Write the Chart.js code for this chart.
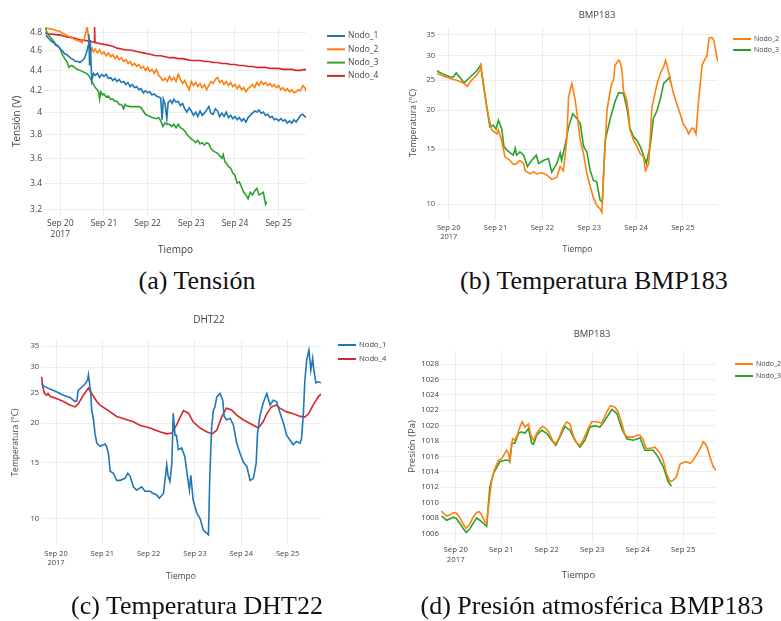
<!DOCTYPE html>
<html>
<head>
<meta charset="utf-8">
<script src="https://cdn.jsdelivr.net/npm/chart.js@4.4.1/dist/chart.umd.min.js"></script>
<style>
  body { margin: 0; background: #fff; width: 781px; height: 621px; position: relative; overflow: hidden; }
  canvas { position: absolute; }
  .cap { position: absolute; width: 400px; text-align: center; font-family: "Liberation Serif", serif; font-size: 26px; line-height: 30px; color: #111; }
</style>
</head>
<body>
<canvas id="chartA" style="left:0;top:0"></canvas>
<canvas id="chartB" style="left:390px;top:0"></canvas>
<canvas id="chartC" style="left:0;top:310px"></canvas>
<canvas id="chartD" style="left:390px;top:310px"></canvas>
<div class="cap" style="left:-3px;top:266px">(a) Tensión</div>
<div class="cap" style="left:394px;top:266px">(b) Temperatura BMP183</div>
<div class="cap" style="left:-3px;top:591px">(c) Temperatura DHT22</div>
<div class="cap" style="left:392px;top:591px">(d) Presión atmosférica BMP183</div>
<script>
"use strict";

// x values are days since Sep 20 2017 00:00
const dayLabels = ['Sep 20', 'Sep 21', 'Sep 22', 'Sep 23', 'Sep 24', 'Sep 25'];
const yearLabel = '2017';

const tensionTicks = [3.2, 3.4, 3.6, 3.8, 4, 4.2, 4.4, 4.6, 4.8];
const tempTicks = [10, 15, 20, 25, 30, 35];
const pressureTicks = [1006, 1008, 1010, 1012, 1014, 1016, 1018, 1020, 1022, 1024, 1026, 1028];

// (a) Tensión (V)
const tensionNodo1 = [[-0.33,4.77],[-0.28,4.74],[-0.2,4.70],[-0.15,4.69],[-0.1,4.66],[-0.05,4.65],[0,4.62],[0.05,4.60],[0.1,4.57],[0.15,4.56],[0.2,4.54],[0.25,4.52],[0.3,4.51],[0.35,4.49],[0.4,4.49],[0.45,4.48],[0.5,4.50],[0.55,4.52],[0.6,4.58],[0.64,4.66],[0.655,4.78],[0.67,4.45],[0.685,4.72],[0.72,4.30],[0.76,4.37],[0.8,4.35],[0.85,4.37],[0.9,4.33],[0.95,4.36],[1.0,4.34],[1.05,4.36],[1.1,4.32],[1.15,4.33],[1.2,4.30],[1.25,4.32],[1.3,4.29],[1.35,4.31],[1.4,4.28],[1.45,4.29],[1.5,4.26],[1.55,4.28],[1.6,4.24],[1.65,4.26],[1.7,4.23],[1.75,4.24],[1.8,4.21],[1.85,4.22],[1.9,4.18],[1.95,4.20],[2.0,4.18],[2.05,4.19],[2.1,4.16],[2.15,4.17],[2.2,4.15],[2.25,4.14],[2.3,4.13],[2.33,3.93],[2.36,4.12],[2.4,4.07],[2.44,3.94],[2.47,4.09],[2.52,4.11],[2.56,4.08],[2.6,4.12],[2.65,4.09],[2.7,4.10],[2.75,4.06],[2.8,4.08],[2.85,4.03],[2.9,4.00],[2.95,4.04],[3.0,4.01],[3.05,3.97],[3.1,4.00],[3.15,3.96],[3.2,4.01],[3.25,3.97],[3.3,3.99],[3.35,4.02],[3.4,4.05],[3.45,3.99],[3.5,3.98],[3.55,4.03],[3.6,4.01],[3.65,3.96],[3.7,3.99],[3.75,3.96],[3.8,4.00],[3.85,3.95],[3.9,3.97],[3.95,3.94],[4.0,3.96],[4.05,3.93],[4.1,3.95],[4.15,3.92],[4.2,3.94],[4.25,3.91],[4.3,3.95],[4.35,3.97],[4.4,3.99],[4.45,4.01],[4.5,4.00],[4.55,4.02],[4.6,3.99],[4.65,4.00],[4.7,3.97],[4.75,3.98],[4.8,3.95],[4.85,3.96],[4.9,3.93],[4.95,3.94],[5.0,3.92],[5.05,3.94],[5.1,3.92],[5.15,3.93],[5.2,3.90],[5.25,3.92],[5.3,3.90],[5.35,3.93],[5.4,3.91],[5.45,3.94],[5.5,3.97],[5.55,3.98],[5.6,3.96],[5.63,3.95]];
const tensionNodo2 = [[-0.34,4.85],[-0.25,4.84],[-0.15,4.83],[-0.1,4.82],[0,4.81],[0.05,4.79],[0.1,4.78],[0.15,4.77],[0.2,4.75],[0.25,4.75],[0.3,4.73],[0.35,4.72],[0.4,4.71],[0.45,4.70],[0.5,4.69],[0.55,4.73],[0.62,4.86],[0.66,4.68],[0.68,4.66],[0.7,4.59],[0.73,4.63],[0.76,4.59],[0.8,4.62],[0.85,4.58],[0.9,4.61],[0.95,4.57],[1.0,4.59],[1.05,4.55],[1.1,4.58],[1.15,4.54],[1.2,4.56],[1.25,4.52],[1.3,4.55],[1.35,4.51],[1.4,4.53],[1.45,4.49],[1.5,4.51],[1.55,4.47],[1.6,4.49],[1.65,4.45],[1.7,4.47],[1.75,4.44],[1.8,4.46],[1.85,4.42],[1.9,4.44],[1.95,4.40],[2.0,4.43],[2.05,4.39],[2.1,4.41],[2.15,4.37],[2.2,4.41],[2.25,4.35],[2.3,4.33],[2.35,4.30],[2.4,4.32],[2.45,4.29],[2.5,4.34],[2.55,4.30],[2.6,4.33],[2.65,4.29],[2.7,4.36],[2.75,4.31],[2.8,4.27],[2.85,4.30],[2.9,4.25],[2.95,4.21],[3.0,4.29],[3.05,4.25],[3.1,4.28],[3.15,4.24],[3.2,4.27],[3.25,4.23],[3.3,4.26],[3.35,4.21],[3.4,4.25],[3.45,4.29],[3.5,4.27],[3.55,4.31],[3.6,4.33],[3.65,4.28],[3.7,4.30],[3.75,4.26],[3.8,4.29],[3.85,4.25],[3.9,4.28],[3.95,4.24],[4.0,4.26],[4.05,4.22],[4.1,4.25],[4.15,4.21],[4.2,4.23],[4.25,4.19],[4.3,4.22],[4.35,4.24],[4.4,4.26],[4.45,4.23],[4.5,4.28],[4.55,4.25],[4.6,4.29],[4.65,4.26],[4.7,4.28],[4.75,4.25],[4.8,4.27],[4.85,4.24],[4.9,4.26],[4.95,4.23],[5.0,4.25],[5.05,4.21],[5.1,4.23],[5.15,4.20],[5.2,4.22],[5.25,4.19],[5.3,4.21],[5.35,4.18],[5.4,4.19],[5.45,4.21],[5.5,4.20],[5.55,4.25],[5.6,4.23],[5.63,4.19]];
const tensionNodo3 = [[-0.34,4.85],[-0.3,4.79],[-0.25,4.76],[-0.2,4.73],[-0.15,4.70],[-0.1,4.67],[-0.05,4.65],[0,4.62],[0.05,4.56],[0.1,4.52],[0.15,4.49],[0.2,4.43],[0.25,4.45],[0.3,4.44],[0.35,4.42],[0.4,4.41],[0.45,4.40],[0.5,4.39],[0.55,4.38],[0.6,4.37],[0.65,4.35],[0.7,4.31],[0.75,4.27],[0.8,4.23],[0.85,4.21],[0.88,4.19],[0.9,4.12],[0.93,4.19],[0.97,4.16],[1.0,4.17],[1.05,4.14],[1.1,4.15],[1.15,4.12],[1.2,4.12],[1.25,4.10],[1.3,4.10],[1.35,4.07],[1.4,4.07],[1.45,4.03],[1.48,4.07],[1.5,4.06],[1.6,4.05],[1.7,4.05],[1.8,4.05],[1.85,4.04],[1.9,4.01],[1.95,3.98],[2.0,3.97],[2.1,3.95],[2.2,3.94],[2.25,3.95],[2.3,3.92],[2.35,3.87],[2.4,3.90],[2.45,3.89],[2.5,3.89],[2.55,3.87],[2.6,3.89],[2.65,3.86],[2.7,3.89],[2.75,3.86],[2.8,3.85],[2.85,3.83],[2.9,3.80],[2.95,3.78],[3.0,3.76],[3.05,3.75],[3.1,3.73],[3.15,3.75],[3.2,3.72],[3.25,3.73],[3.3,3.71],[3.35,3.73],[3.4,3.72],[3.45,3.68],[3.5,3.66],[3.55,3.65],[3.6,3.64],[3.65,3.62],[3.7,3.60],[3.73,3.63],[3.77,3.57],[3.8,3.56],[3.85,3.53],[3.9,3.52],[3.95,3.48],[4.0,3.46],[4.05,3.40],[4.1,3.41],[4.15,3.37],[4.2,3.33],[4.25,3.31],[4.3,3.28],[4.35,3.33],[4.4,3.31],[4.45,3.34],[4.5,3.36],[4.55,3.31],[4.6,3.32],[4.65,3.33],[4.7,3.24],[4.73,3.26]];
const tensionNodo4 = [[-0.35,4.79],[-0.2,4.78],[0,4.77],[0.15,4.75],[0.3,4.74],[0.45,4.72],[0.6,4.71],[0.7,4.70],[0.78,4.69],[0.785,4.86],[0.795,4.69],[0.9,4.68],[1.0,4.67],[1.1,4.66],[1.2,4.65],[1.3,4.63],[1.4,4.62],[1.5,4.61],[1.6,4.61],[1.7,4.60],[1.8,4.59],[1.9,4.58],[2.0,4.57],[2.1,4.56],[2.2,4.55],[2.3,4.55],[2.4,4.54],[2.5,4.53],[2.6,4.53],[2.7,4.52],[2.8,4.52],[2.9,4.51],[3.0,4.50],[3.1,4.50],[3.2,4.50],[3.3,4.49],[3.4,4.49],[3.5,4.48],[3.6,4.48],[3.7,4.47],[3.8,4.47],[3.9,4.46],[4.0,4.46],[4.1,4.45],[4.2,4.45],[4.3,4.44],[4.4,4.44],[4.5,4.43],[4.6,4.43],[4.7,4.43],[4.8,4.42],[4.9,4.42],[5.0,4.42],[5.1,4.41],[5.2,4.41],[5.3,4.41],[5.4,4.40],[5.5,4.40],[5.6,4.41],[5.63,4.40]];

// (b) Temperatura BMP183 (°C)
const bmpTempNodo2 = [[-0.26,26.3],[-0.11,25.8],[0.03,25.3],[0.17,25.0],[0.31,24.5],[0.40,23.9],[0.46,24.7],[0.60,26.0],[0.67,27.0],[0.68,28.4],[0.74,24.0],[0.78,22.1],[0.85,19.1],[0.92,17.3],[1.03,16.8],[1.06,17.3],[1.13,16.0],[1.20,14.2],[1.31,13.8],[1.38,13.4],[1.45,13.5],[1.52,13.8],[1.60,13.5],[1.63,12.8],[1.74,12.5],[1.81,12.7],[1.88,12.5],[1.99,12.6],[2.09,12.4],[2.20,12.0],[2.31,12.2],[2.38,13.2],[2.45,12.8],[2.52,16.0],[2.56,22.1],[2.63,24.4],[2.70,21.6],[2.74,19.5],[2.81,16.0],[2.88,14.5],[2.95,12.5],[3.02,11.4],[3.09,10.5],[3.16,9.9],[3.23,9.66],[3.27,9.4],[3.30,11.9],[3.38,20.0],[3.45,23.2],[3.48,24.4],[3.52,25.0],[3.55,27.9],[3.63,29.0],[3.66,28.6],[3.70,26.9],[3.73,23.2],[3.80,21.6],[3.84,19.5],[3.87,17.3],[3.95,16.0],[4.02,15.3],[4.09,14.5],[4.16,14.2],[4.20,12.8],[4.27,13.5],[4.34,20.5],[4.45,24.4],[4.52,26.3],[4.59,27.6],[4.63,29.0],[4.67,27.6],[4.73,25.0],[4.80,22.7],[4.87,21.0],[4.94,19.5],[5.01,18.1],[5.09,17.3],[5.12,16.8],[5.19,17.5],[5.23,17.5],[5.28,16.8],[5.33,21.0],[5.41,27.9],[5.48,29.4],[5.51,29.7],[5.56,34.1],[5.62,34.3],[5.66,33.6],[5.71,30.5],[5.75,28.6]];
const bmpTempNodo3 = [[-0.26,26.8],[-0.11,26.1],[0.03,25.6],[0.10,25.6],[0.16,26.4],[0.24,25.5],[0.33,24.5],[0.46,25.6],[0.60,26.8],[0.68,27.9],[0.74,24.4],[0.81,20.5],[0.88,17.7],[0.95,17.9],[1.01,17.4],[1.06,18.6],[1.13,17.5],[1.18,15.3],[1.24,14.9],[1.38,14.35],[1.42,15.1],[1.45,14.35],[1.52,14.7],[1.60,14.35],[1.68,13.2],[1.77,13.8],[1.87,14.35],[1.92,13.5],[2.02,13.8],[2.13,14.0],[2.20,12.65],[2.31,13.5],[2.38,14.6],[2.41,13.8],[2.49,15.6],[2.56,17.7],[2.65,19.5],[2.74,18.8],[2.81,18.1],[2.88,15.3],[2.95,14.7],[3.02,12.85],[3.09,11.9],[3.16,11.8],[3.23,10.3],[3.28,10.1],[3.34,16.0],[3.45,18.8],[3.55,21.3],[3.63,22.8],[3.73,22.7],[3.80,20.5],[3.87,17.5],[3.95,16.4],[4.02,16.0],[4.09,15.3],[4.16,14.35],[4.22,13.5],[4.30,15.3],[4.37,18.8],[4.45,20.0],[4.52,21.8],[4.59,24.4],[4.66,25.0],[4.72,25.6],[4.74,24.4]];

// (c) Temperatura DHT22 (°C)
const dhtTempNodo1 = [[-0.31,26.7],[-0.27,26.2],[-0.13,25.6],[0.01,25.1],[0.16,24.5],[0.30,24.1],[0.41,23.4],[0.45,23.5],[0.48,25.4],[0.55,25.9],[0.63,26.6],[0.68,27.3],[0.70,28.4],[0.72,27.0],[0.75,24.8],[0.77,22.0],[0.81,20.5],[0.84,18.6],[0.88,17.3],[0.95,16.9],[1.06,17.2],[1.09,16.9],[1.13,16.1],[1.17,14.1],[1.24,13.9],[1.31,13.2],[1.38,13.2],[1.49,13.4],[1.55,13.9],[1.60,13.6],[1.67,12.6],[1.74,12.3],[1.85,12.6],[1.92,12.2],[2.03,12.2],[2.10,12.0],[2.17,11.9],[2.23,11.6],[2.32,12.0],[2.39,14.8],[2.42,13.6],[2.46,13.1],[2.50,14.9],[2.53,21.5],[2.57,18.3],[2.60,18.3],[2.64,16.5],[2.71,16.7],[2.78,15.7],[2.82,14.2],[2.88,12.3],[2.91,13.7],[2.96,11.45],[3.04,10.4],[3.11,10.0],[3.18,9.2],[3.25,9.0],[3.29,8.9],[3.32,13.6],[3.36,19.5],[3.40,22.0],[3.43,22.5],[3.47,24.2],[3.54,24.8],[3.60,23.6],[3.63,21.0],[3.68,20.5],[3.76,20.7],[3.83,19.7],[3.90,17.3],[3.97,16.1],[4.04,15.1],[4.12,14.6],[4.19,13.2],[4.26,13.4],[4.32,14.9],[4.35,18.6],[4.40,21.0],[4.47,23.1],[4.55,24.8],[4.62,22.8],[4.69,23.6],[4.76,23.4],[4.83,21.7],[4.91,20.0],[4.98,18.3],[5.05,17.7],[5.12,17.1],[5.19,17.5],[5.27,17.3],[5.30,17.9],[5.34,21.5],[5.37,27.0],[5.41,31.6],[5.46,34.0],[5.50,29.4],[5.54,32.0],[5.56,29.8],[5.61,26.8],[5.66,27.0],[5.72,26.8]];
const dhtTempNodo4 = [[-0.31,28.0],[-0.29,26.2],[-0.25,24.8],[-0.20,24.5],[-0.17,24.8],[-0.13,24.3],[0.01,23.9],[0.16,23.4],[0.30,22.8],[0.41,22.5],[0.48,23.0],[0.59,24.5],[0.70,25.8],[0.77,24.8],[0.88,23.4],[0.95,22.8],[1.17,21.7],[1.31,21.0],[1.53,20.5],[1.67,20.2],[1.81,19.7],[2.03,19.3],[2.24,18.8],[2.39,18.5],[2.50,18.6],[2.60,19.7],[2.75,21.9],[2.86,21.5],[2.96,20.2],[3.11,19.3],[3.25,18.8],[3.37,18.5],[3.47,19.0],[3.58,21.0],[3.68,22.3],[3.79,22.0],[3.90,21.2],[4.04,20.5],[4.26,19.7],[4.37,19.3],[4.47,20.2],[4.55,21.4],[4.65,22.5],[4.76,22.8],[4.83,22.3],[4.98,21.7],[5.12,21.4],[5.27,21.0],[5.37,20.9],[5.45,21.4],[5.55,22.8],[5.66,24.2],[5.72,24.7]];

// (d) Presión BMP183 (Pa)
const pressureNodo2 = [[-0.31,1008.9],[-0.27,1008.6],[-0.20,1008.25],[-0.12,1008.4],[-0.05,1008.7],[0.02,1008.6],[0.10,1007.95],[0.17,1007.1],[0.23,1006.65],[0.31,1007.2],[0.39,1008.16],[0.46,1008.7],[0.52,1008.8],[0.57,1008.4],[0.64,1007.5],[0.68,1007.3],[0.72,1009.46],[0.79,1012.9],[0.86,1014.4],[0.94,1015.5],[1.01,1015.7],[1.06,1016.2],[1.12,1016.8],[1.16,1016.4],[1.19,1015.5],[1.25,1018.3],[1.30,1018.1],[1.35,1018.75],[1.41,1019.8],[1.46,1020.5],[1.52,1019.8],[1.60,1020.2],[1.65,1018.75],[1.71,1018.1],[1.78,1019.0],[1.85,1019.6],[1.91,1019.9],[1.96,1019.75],[2.04,1019.2],[2.11,1018.3],[2.18,1017.6],[2.25,1018.1],[2.36,1019.8],[2.44,1020.5],[2.51,1020.2],[2.58,1018.75],[2.66,1017.7],[2.73,1017.45],[2.80,1018.1],[2.91,1019.6],[2.99,1020.5],[3.10,1020.5],[3.21,1020.3],[3.32,1021.8],[3.40,1022.6],[3.50,1022.4],[3.57,1021.8],[3.65,1020.3],[3.72,1018.75],[3.79,1018.5],[3.90,1018.5],[3.98,1018.75],[4.05,1018.75],[4.11,1018.3],[4.19,1017.0],[4.30,1017.1],[4.38,1017.2],[4.41,1017.0],[4.49,1016.4],[4.56,1015.5],[4.63,1013.8],[4.71,1012.7],[4.78,1012.9],[4.85,1013.35],[4.93,1015.0],[5.00,1015.2],[5.07,1015.3],[5.15,1015.1],[5.22,1015.5],[5.29,1016.2],[5.37,1017.0],[5.44,1017.9],[5.51,1017.45],[5.59,1015.9],[5.66,1014.65],[5.72,1014.2]];
const pressureNodo3 = [[-0.31,1008.25],[-0.20,1007.7],[-0.05,1008.1],[0.02,1007.9],[0.17,1006.6],[0.23,1006.1],[0.31,1006.6],[0.46,1008.0],[0.53,1007.7],[0.68,1006.9],[0.75,1012.05],[0.83,1013.8],[0.97,1015.3],[1.08,1015.5],[1.16,1015.5],[1.19,1015.3],[1.23,1017.7],[1.30,1017.7],[1.38,1019.0],[1.45,1019.2],[1.52,1019.0],[1.60,1019.6],[1.67,1017.7],[1.71,1017.6],[1.78,1018.75],[1.89,1019.4],[2.00,1019.0],[2.11,1018.1],[2.20,1017.45],[2.29,1018.5],[2.40,1019.9],[2.51,1019.4],[2.62,1018.1],[2.73,1017.2],[2.84,1018.1],[2.95,1019.8],[3.06,1020.0],[3.17,1019.8],[3.28,1020.7],[3.43,1022.1],[3.54,1021.6],[3.65,1019.6],[3.76,1018.3],[3.90,1018.1],[4.05,1018.4],[4.16,1016.8],[4.34,1016.8],[4.45,1015.9],[4.56,1014.65],[4.67,1012.7],[4.74,1012.1]];

const BLUE = '#1f77b4', ORANGE = '#ff7f0e', GREEN = '#2ca02c', RED = '#d62728';
const TEXT = '#444';
const FONT = '"Open Sans", "Liberation Sans", sans-serif';

// title + legend drawn at fixed spots, like the plotly layout
const panelText = {
  id: 'panelText',
  afterDraw(chart, args, opts) {
    const ctx = chart.ctx;
    ctx.save();
    ctx.textBaseline = 'middle';
    if (opts.title) {
      ctx.font = `${opts.titleSize}px ${FONT}`;
      ctx.fillStyle = TEXT;
      ctx.textAlign = 'center';
      ctx.fillText(opts.title, opts.titleX, opts.titleY);
    }
    ctx.font = `${opts.legendSize}px ${FONT}`;
    ctx.textAlign = 'left';
    chart.data.datasets.forEach((ds, i) => {
      const y = opts.legendY + i * opts.legendDy;
      ctx.strokeStyle = ds.borderColor;
      ctx.lineWidth = 2;
      ctx.beginPath();
      ctx.moveTo(opts.legendX, y);
      ctx.lineTo(opts.legendX + 18, y);
      ctx.stroke();
      ctx.fillStyle = TEXT;
      ctx.fillText(ds.label, opts.legendX + 21, y);
    });
    ctx.restore();
  }
};

function toPoints(pairs) {
  return pairs.map(p => ({x: p[0], y: p[1]}));
}

function line(label, pairs, color) {
  return {
    label: label,
    data: toPoints(pairs),
    borderColor: color,
    backgroundColor: color,
    borderWidth: 1.6,
    pointRadius: 0,
    tension: 0
  };
}

function makeChart(id, p) {
  const canvas = document.getElementById(id);
  canvas.width = p.w;
  canvas.height = p.h;
  canvas.style.width = p.w + 'px';
  canvas.style.height = p.h + 'px';

  return new Chart(canvas, {
    type: 'line',
    data: { datasets: p.datasets },
    plugins: [panelText],
    options: {
      responsive: false,
      animation: false,
      layout: { padding: { top: p.area.top, left: 0, right: p.w - p.area.right, bottom: 0 } },
      plugins: {
        legend: { display: false },
        tooltip: { enabled: false },
        panelText: p.text
      },
      scales: {
        x: {
          type: 'linear',
          min: p.xMin,
          max: p.xMax,
          afterBuildTicks: s => { s.ticks = dayLabels.map((d, i) => ({value: i})); },
          afterFit: s => { s.height = p.h - p.area.bottom; },
          grid: { color: '#ececec', drawTicks: false },
          border: { display: false },
          ticks: {
            color: TEXT,
            padding: p.xTickPad,
            maxRotation: 0,
            autoSkip: false,
            font: { family: FONT, size: p.tickSize, lineHeight: 1.3 },
            callback: v => v === 0 ? [dayLabels[0], yearLabel] : dayLabels[v]
          },
          title: {
            display: true,
            text: 'Tiempo',
            color: TEXT,
            font: { family: FONT, size: p.axisTitleSize },
            padding: { top: 0, bottom: p.xTitlePad }
          }
        },
        y: {
          type: p.yType,
          min: p.yMin,
          max: p.yMax,
          afterBuildTicks: s => { s.ticks = p.yTicks.map(v => ({value: v})); },
          afterFit: s => { s.width = p.area.left; },
          grid: { color: '#ececec', drawTicks: false },
          border: { display: false },
          ticks: {
            color: TEXT,
            padding: p.yTickPad,
            font: { family: FONT, size: p.tickSize },
            callback: v => String(v)
          },
          title: {
            display: true,
            text: p.yTitle,
            color: TEXT,
            font: { family: FONT, size: p.axisTitleSize },
            padding: { top: p.yTitlePad, bottom: 0 }
          }
        }
      }
    }
  });
}

makeChart('chartA', {
  w: 390, h: 262,
  area: { left: 45, top: 27, right: 306, bottom: 216 },
  xMin: -0.35, xMax: 5.626,
  yType: 'logarithmic', yMin: 3.154, yMax: 4.859, yTicks: tensionTicks,
  yTitle: 'Tensión (V)',
  tickSize: 8.5, axisTitleSize: 10,
  xTickPad: 2, yTickPad: 3, xTitlePad: 6, yTitlePad: 11,
  datasets: [
    line('Nodo_1', tensionNodo1, BLUE),
    line('Nodo_2', tensionNodo2, ORANGE),
    line('Nodo_3', tensionNodo3, GREEN),
    line('Nodo_4', tensionNodo4, RED)
  ],
  text: { legendX: 327, legendY: 36, legendDy: 13.3, legendSize: 8.5 }
});

makeChart('chartB', {
  w: 391, h: 262,
  area: { left: 47, top: 27, right: 328, bottom: 219 },
  xMin: -0.25, xMax: 5.75,
  yType: 'logarithmic', yMin: 8.95, yMax: 37.05, yTicks: tempTicks,
  yTitle: 'Temperatura (°C)',
  tickSize: 7.5, axisTitleSize: 8.5,
  xTickPad: 3.5, yTickPad: 2, xTitlePad: 7, yTitlePad: 18,
  datasets: [
    line('Nodo_2', bmpTempNodo2, ORANGE),
    line('Nodo_3', bmpTempNodo3, GREEN)
  ],
  text: { title: 'BMP183', titleX: 207, titleY: 15, titleSize: 9.5, legendX: 343, legendY: 39, legendDy: 11, legendSize: 7 }
});

makeChart('chartC', {
  w: 390, h: 285,
  area: { left: 41, top: 30, right: 321, bottom: 235 },
  xMin: -0.324, xMax: 5.72,
  yType: 'logarithmic', yMin: 8.26, yMax: 36.56, yTicks: tempTicks,
  yTitle: 'Temperatura (°C)',
  tickSize: 7.5, axisTitleSize: 8.5,
  xTickPad: 3.5, yTickPad: 2, xTitlePad: 13, yTitlePad: 10,
  datasets: [
    line('Nodo_1', dhtTempNodo1, BLUE),
    line('Nodo_4', dhtTempNodo4, RED)
  ],
  text: { title: 'DHT22', titleX: 209, titleY: 10, titleSize: 10, legendX: 338, legendY: 35, legendDy: 14, legendSize: 7.7 }
});

makeChart('chartD', {
  w: 391, h: 285,
  area: { left: 51, top: 41, right: 326, bottom: 232 },
  xMin: -0.323, xMax: 5.72,
  yType: 'linear', yMin: 1004.87, yMax: 1029.7, yTicks: pressureTicks,
  yTitle: 'Presión (Pa)',
  tickSize: 7.8, axisTitleSize: 9.5,
  xTickPad: 2.3, yTickPad: 2, xTitlePad: 14, yTitlePad: 17,
  datasets: [
    line('Nodo_2', pressureNodo2, ORANGE),
    line('Nodo_3', pressureNodo3, GREEN)
  ],
  text: { title: 'BMP183', titleX: 202, titleY: 24, titleSize: 9.5, legendX: 345, legendY: 54, legendDy: 12, legendSize: 7 }
});
</script>
</body>
</html>
